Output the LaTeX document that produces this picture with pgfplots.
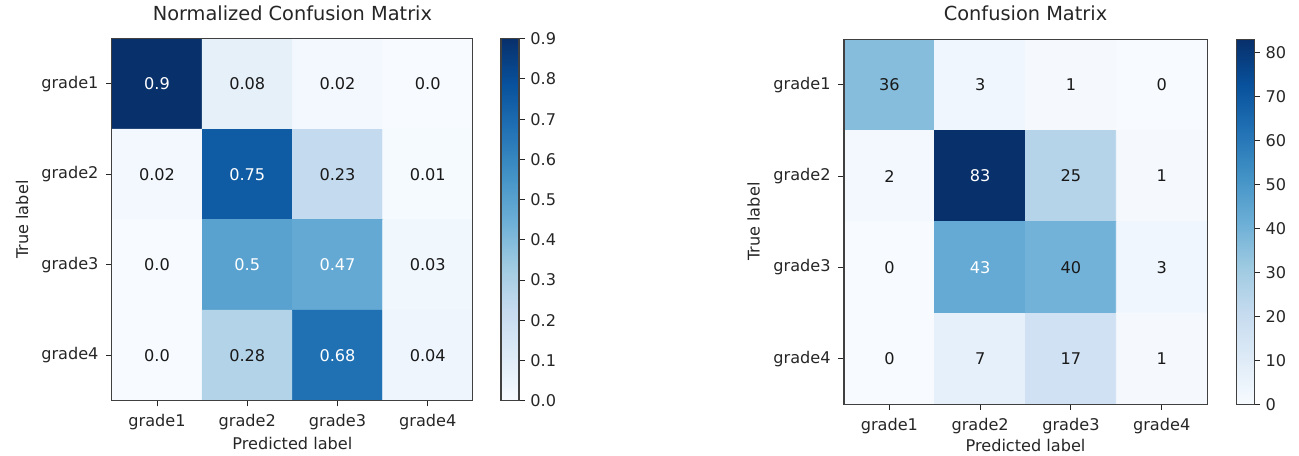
\documentclass[border=0pt]{standalone}
\usepackage{fontspec}
\setmainfont{DejaVu Sans}
\usepackage{pgfplots}
\pgfplotsset{compat=1.18}
\pgfplotsset{
  colormap={blues}{rgb255=(247,251,255) rgb255=(222,235,247) rgb255=(198,219,239) rgb255=(158,202,225) rgb255=(107,174,214) rgb255=(66,146,198) rgb255=(33,113,181) rgb255=(8,81,156) rgb255=(8,48,107)},
  cmstyle/.style={
    scale only axis, anchor=south west,
    xmin=-0.5, xmax=3.5, ymin=-0.5, ymax=3.5, y dir=reverse,
    enlargelimits=false, axis on top,
    xtick={0,1,2,3}, ytick={0,1,2,3},
    xticklabels={grade1,grade2,grade3,grade4},
    yticklabels={grade1,grade2,grade3,grade4},
    tick align=outside, tick pos=left, major tick length=3.5pt,
    xticklabel shift=1.7pt, yticklabel shift=1.3pt,
    tick style={black!85, line width=0.6pt},
    axis line style={black!75, line width=0.7pt},
    tick label style={font=\fontsize{10}{12}\selectfont, text=black!85},
    label style={font=\fontsize{10}{12}\selectfont, text=black!85},
    title style={font=\fontsize{12}{14}\selectfont, text=black!85, at={(0.5,1)}, anchor=base, yshift=5.3pt},
    xlabel style={at={(axis description cs:0.5,0)}, anchor=base, yshift=-30.6pt},
    ylabel style={at={(axis description cs:-0.249,0.5)}, anchor=center},
    xlabel={Predicted label}, ylabel={True label},
    /pgf/number format/assume math mode=true,
    colormap name=blues, colorbar,
    colorbar shift/.style={xshift=17.4pt},
  },
  cbstyle/.style={width=11.2pt, at={(parent axis.north east)}, anchor=north west,
    /pgf/number format/assume math mode=true,
    ytick pos=right, tick align=outside, major tick length=3.5pt,
    tick style={black!85, line width=0.6pt}, axis line style={black!75, line width=0.7pt}},
  cellstyle/.style={draw=none, mark=none, nodes near coords, point meta=explicit symbolic,
    every node near coord/.append style={anchor=center, font=\fontsize{10}{12}\selectfont, text=#1}},
}
\begin{document}
\begin{tikzpicture}
\path[use as bounding box] (0,0) rectangle (805.4pt,282.7pt);
\begin{axis}[cmstyle, at={(69.4pt,34.3pt)}, width=223.8pt, height=224.4pt,
  title={Normalized Confusion Matrix},
  point meta min=0, point meta max=0.9,
  colorbar style={cbstyle,
    ytick={0,0.1,0.2,0.3,0.4,0.5,0.6,0.7,0.8,0.9},
    yticklabel style={/pgf/number format/fixed, /pgf/number format/fixed zerofill, /pgf/number format/precision=1, font=\fontsize{10}{12}\selectfont, text=black!85}}]
\addplot[matrix plot*, mesh/cols=4, mesh/rows=4, point meta=explicit] table[meta=c] {
x y c
0 0 0.90
1 0 0.08
2 0 0.02
3 0 0.00
0 1 0.02
1 1 0.75
2 1 0.23
3 1 0.01
0 2 0.00
1 2 0.50
2 2 0.47
3 2 0.03
0 3 0.00
1 3 0.28
2 3 0.68
3 3 0.04
};
\addplot[cellstyle=black!90] table[meta=t] {
x y t
1 0 0.08
2 0 0.02
3 0 0.0
0 1 0.02
2 1 0.23
3 1 0.01
0 2 0.0
3 2 0.03
0 3 0.0
1 3 0.28
3 3 0.04
};
\addplot[cellstyle=white] table[meta=t] {
x y t
0 0 0.9
1 1 0.75
1 2 0.5
2 2 0.47
2 3 0.68
};
\end{axis}
\begin{axis}[cmstyle, at={(523.3pt,32.1pt)}, width=225.1pt, height=226.3pt,
  title={Confusion Matrix},
  xlabel style={yshift=1.4pt},
  colorbar shift/.style={xshift=18pt},
  point meta min=0, point meta max=83,
  colorbar style={cbstyle,
    ytick={0,10,20,30,40,50,60,70,80},
    yticklabel style={font=\fontsize{10}{12}\selectfont, text=black!85}}]
\addplot[matrix plot*, mesh/cols=4, mesh/rows=4, point meta=explicit] table[meta=c] {
x y c
0 0 36
1 0 3
2 0 1
3 0 0
0 1 2
1 1 83
2 1 25
3 1 1
0 2 0
1 2 43
2 2 40
3 2 3
0 3 0
1 3 7
2 3 17
3 3 1
};
\addplot[cellstyle=black!90] table[meta=t] {
x y t
0 0 36
1 0 3
2 0 1
3 0 0
0 1 2
2 1 25
3 1 1
0 2 0
2 2 40
3 2 3
0 3 0
1 3 7
2 3 17
3 3 1
};
\addplot[cellstyle=white] table[meta=t] {
x y t
1 1 83
1 2 43
};
\end{axis}
\end{tikzpicture}
\end{document}
